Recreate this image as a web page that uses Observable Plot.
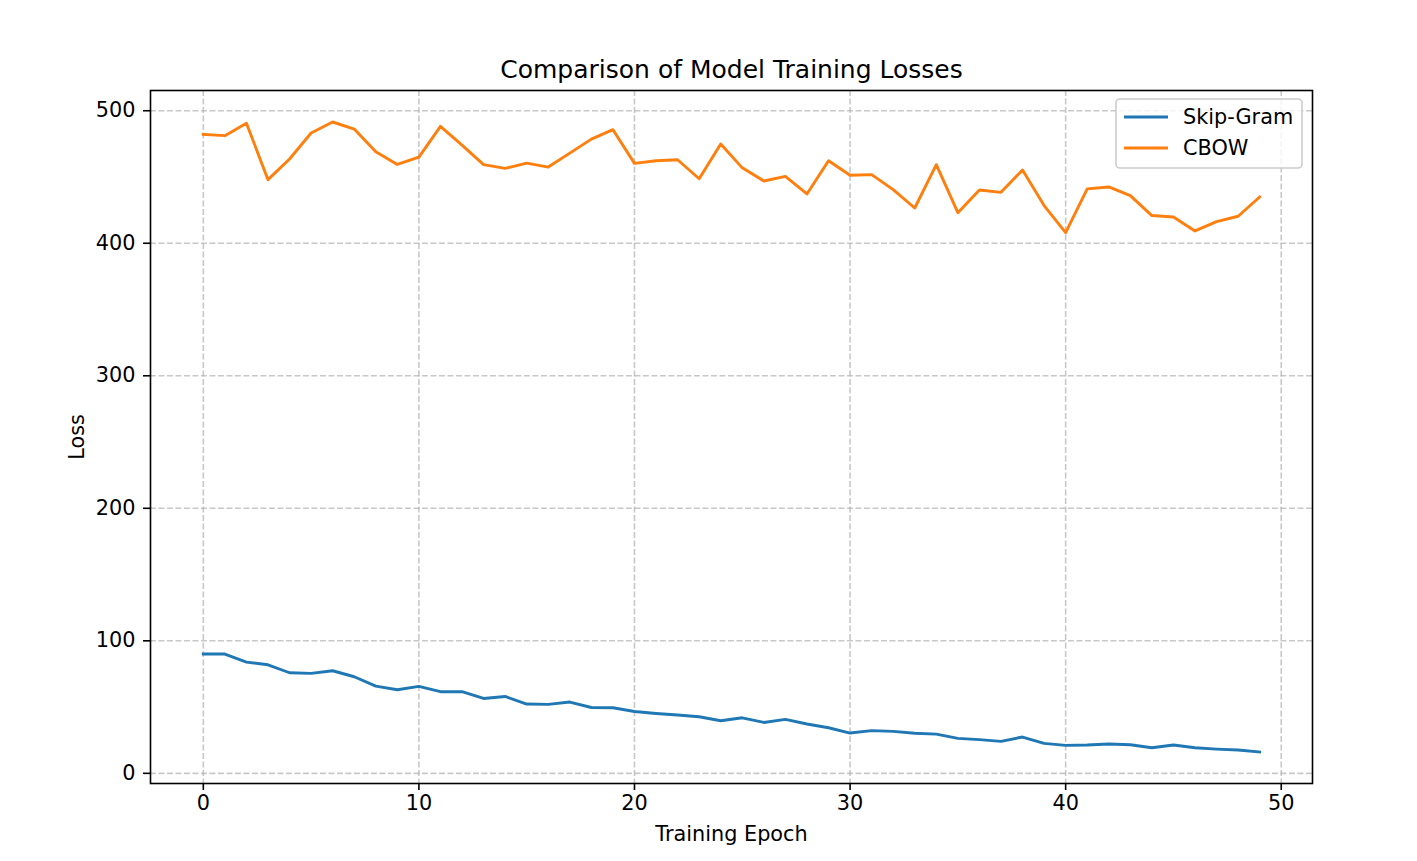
<!DOCTYPE html>
<html>
<head>
<meta charset="utf-8">
<script src="https://cdn.jsdelivr.net/npm/d3@7"></script>
<script src="https://cdn.jsdelivr.net/npm/@observablehq/plot@0.6"></script>
<style>
  html, body { margin: 0; padding: 0; background: white; }
  #chart { width: 1417px; height: 861px; }
</style>
</head>
<body>
<div id="chart"></div>
<script>
const epochs = [0,1,2,3,4,5,6,7,8,9,10,11,12,13,14,15,16,17,18,19,20,21,22,23,24,25,26,27,28,29,30,31,32,33,34,35,36,37,38,39,40,41,42,43,44,45,46,47,48,49];
const skipGram = [90.0,90.0,83.9,81.9,75.9,75.4,77.4,72.9,65.8,63.1,65.6,61.6,61.6,56.5,58.0,52.3,52.0,53.8,49.7,49.5,46.7,45.2,44.0,42.7,39.7,41.9,38.4,40.7,37.2,34.4,30.4,32.2,31.7,30.2,29.6,26.4,25.4,24.1,27.4,22.6,21.1,21.4,22.1,21.6,19.3,21.4,19.3,18.3,17.6,16.1];
const cbow = [482.2,481.2,490.5,448.0,463.6,483.2,491.5,486.2,469.1,459.5,465.0,488.2,474.0,459.3,456.5,460.5,457.5,468.0,478.6,485.7,460.3,462.3,463.0,448.7,474.9,456.9,447.0,450.5,437.2,462.3,451.3,451.8,440.5,426.6,459.3,423.1,440.2,438.4,455.3,428.4,408.0,441.0,442.5,435.9,420.9,419.8,409.3,416.3,420.4,434.9];
const seriesNames = ["Skip-Gram", "CBOW"];
const seriesColors = ["#1f77b4", "#ff7f0e"];
const xTicks = [0,10,20,30,40,50];
const yTicks = [0,100,200,300,400,500];

const table = [
  ...epochs.map((e, i) => ({epoch: e, loss: skipGram[i], series: seriesNames[0]})),
  ...epochs.map((e, i) => ({epoch: e, loss: cbow[i], series: seriesNames[1]}))
];

// matplotlib-style 5% margins
const xMin = d3.min(epochs), xMax = d3.max(epochs);
const yAll = skipGram.concat(cbow);
const yMin = d3.min(yAll), yMax = d3.max(yAll);
const xPad = (xMax - xMin) * 0.05, yPad = (yMax - yMin) * 0.05;

const fs = 20.8;
const titleFs = 25.0;
const gridStyle = {stroke: "#b0b0b0", strokeOpacity: 0.7, strokeDasharray: "5.9,2.6", strokeWidth: 1.6};

const chart = Plot.plot({
  width: 1417,
  height: 861,
  marginLeft: 150,
  marginRight: 105,
  marginTop: 90,
  marginBottom: 78,
  style: {fontFamily: "DejaVu Sans", fontSize: fs + "px", background: "white", color: "black", overflow: "visible"},
  x: {domain: [xMin - xPad, xMax + xPad]},
  y: {domain: [yMin - yPad, yMax + yPad]},
  color: {domain: seriesNames, range: seriesColors},
  marks: [
    Plot.gridX(xTicks, gridStyle),
    Plot.gridY(yTicks, gridStyle),
    Plot.line(table, {x: "epoch", y: "loss", z: "series", stroke: "series", strokeWidth: 2.9, strokeLinejoin: "round", strokeLinecap: "square"}),
    Plot.frame({stroke: "black", strokeWidth: 1.6}),
    Plot.axisX(xTicks, {tickSize: 7, tickPadding: 5, tickFormat: d => String(d), label: null, fontSize: fs, strokeWidth: 1.6, stroke: "black"}),
    Plot.axisY(yTicks, {tickSize: 7, tickPadding: 8, tickFormat: d => String(d), label: null, fontSize: fs, strokeWidth: 1.6, stroke: "black"}),
    Plot.text(["Training Epoch"], {frameAnchor: "bottom", dy: 51, lineAnchor: "middle", textAnchor: "middle", fontSize: fs, fill: "black"}),
    Plot.text(["Loss"], {frameAnchor: "left", dx: -73, rotate: -90, lineAnchor: "middle", textAnchor: "middle", fontSize: fs, fill: "black"}),
    Plot.text(["Comparison of Model Training Losses"], {frameAnchor: "top", dy: -21, lineAnchor: "middle", textAnchor: "middle", fontSize: titleFs, fill: "black"})
  ]
});

document.getElementById("chart").appendChild(chart);

// Legend (upper right, matplotlib style)
const svg = d3.select(chart);
const lg = svg.append("g").attr("font-family", "DejaVu Sans").attr("font-size", fs + "px").attr("text-anchor", "start");
lg.append("rect")
  .attr("x", 1116).attr("y", 99).attr("width", 186).attr("height", 69)
  .attr("rx", 4).attr("ry", 4)
  .attr("fill", "white").attr("fill-opacity", 0.8)
  .attr("stroke", "#cccccc").attr("stroke-width", 1.6);
seriesNames.forEach((name, i) => {
  const y = 117 + i * 31;
  lg.append("line").attr("x1", 1124).attr("x2", 1168).attr("y1", y).attr("y2", y)
    .attr("stroke", seriesColors[i]).attr("stroke-width", 2.9);
  lg.append("text").attr("x", 1183).attr("y", y).attr("dy", "0.35em").attr("fill", "black").attr("text-anchor", "start").text(name);
});
</script>
</body>
</html>
